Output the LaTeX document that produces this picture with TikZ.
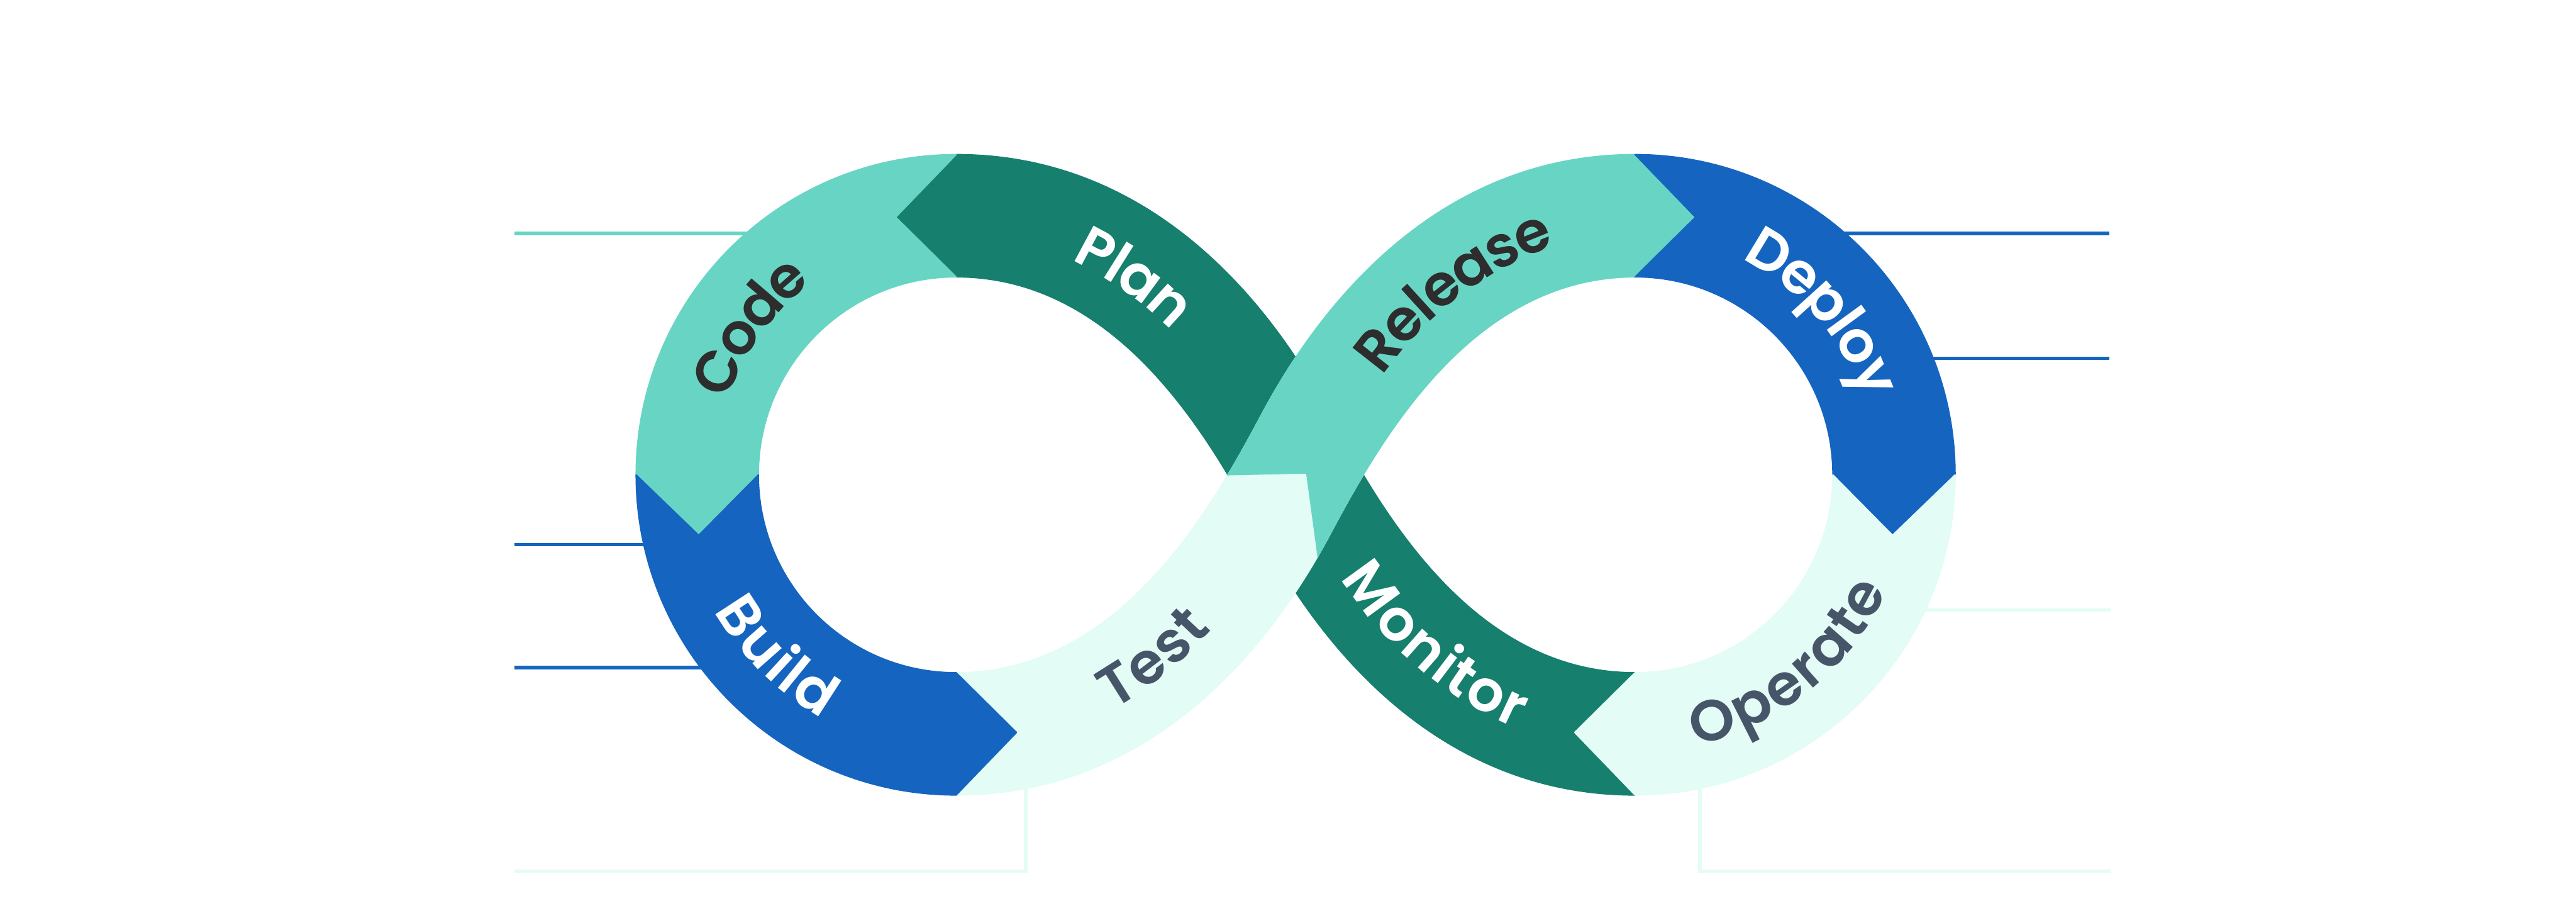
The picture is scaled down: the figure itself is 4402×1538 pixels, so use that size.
\documentclass[tikz,border=0pt]{standalone}
\usepackage{fontspec}
\usetikzlibrary{calc,decorations.text}
\IfFontExistsTF{Poppins SemiBold}%
  {\newfontfamily\lblfont{Poppins SemiBold}\newcommand\lblweight{\relax}}%
  {\newfontfamily\lblfont{Poppins}\newcommand\lblweight{\bfseries}}
\newcommand\lblstyle{\lblfont\lblweight\fontsize{28}{30}\selectfont}
\definecolor{cteal}{HTML}{68D5C4}
\definecolor{cdark}{HTML}{167F6E}
\definecolor{cblue}{HTML}{1565C0}
\definecolor{clight}{HTML}{E3FCF6}
\definecolor{ctxt}{HTML}{2D2D2D}
\definecolor{cslate}{HTML}{475569}
\begin{document}
\begin{tikzpicture}[x=0.01cm,y=0.01cm,
  seg/.style={fill=#1,draw=#1,line width=0.6pt,line join=round},
  guide/.style={draw=#1,line width=1.7pt},
  lbl/.style={decorate,decoration={text along path,text align=center,raise=-9pt,text={#1}}}]
\useasboundingbox (0,0) rectangle (4402,1538);
% centres
\coordinate (L) at (1634,727);
\coordinate (Rc) at (2794,727);
\coordinate (OPlan) at (1573.5,550.3);
\coordinate (OMon) at (2854.5,903.7);
\coordinate (ORel) at (2854.5,550.3);
\coordinate (OTest) at (1573.5,903.7);
% guide lines (behind the loop)
\coordinate (g1a) at (879,1139);  \coordinate (g1b) at (1290,1139);
\coordinate (g2a) at (879,608);   \coordinate (g2b) at (1115,608);
\coordinate (g3a) at (879,398);   \coordinate (g3b) at (1212,398);
\coordinate (g4a) at (879,50);    \coordinate (g4c) at (1753,50); \coordinate (g4b) at (1753,208);
\coordinate (h1a) at (3604,1139); \coordinate (h1b) at (3139,1139);
\coordinate (h2a) at (3604,926);  \coordinate (h2b) at (3288,926);
\coordinate (h3a) at (3607,496);  \coordinate (h3b) at (3275,496);
\coordinate (h4a) at (3607,50);   \coordinate (h4c) at (2905,50); \coordinate (h4b) at (2905,206);
\draw[guide=cteal] (g1a) -- (g1b);
\draw[guide=cblue] (g2a) -- (g2b);
\draw[guide=cblue] (g3a) -- (g3b);
\draw[guide=clight,line join=miter] (g4a) -- (g4c) -- (g4b);
\draw[guide=cblue] (h1a) -- (h1b);
\draw[guide=cblue] (h2a) -- (h2b);
\draw[guide=clight] (h3a) -- (h3b);
\draw[guide=clight,line join=miter] (h4a) -- (h4c) -- (h4b);
% Plan -> Monitor band
\path[seg=cdark] (1634,1274) .. controls (1954,1274) and (2159,1042) .. (2272,830)
  .. controls (2357,671) and (2514,389) .. (2794,389)
  -- ($(Rc)+(256.8:452)$) -- (2794,180)
  .. controls (2474,180) and (2269,412) .. (2156,624)
  .. controls (2071,783) and (1914,1065) .. (1634,1065)
  -- ($(L)+(103.2:452)$) -- cycle;
% Test -> Release band
\path[seg=clight] (1634,180) .. controls (1954,180) and (2159,412) .. (2272,624)
  .. controls (2357,783) and (2514,1065) .. (2794,1065)
  -- ($(Rc)+(76.8:452)$) -- (2794,1274)
  .. controls (2474,1274) and (2269,1042) .. (2156,830)
  .. controls (2071,671) and (1914,389) .. (1634,389)
  -- ($(L)+(283.2:452)$) -- cycle;
\begin{scope}
  \clip (1900,721.5) -- (2232,729) -- (2274,420) -- (3700,420) -- (3700,1538) -- (1900,1538) -- cycle;
  \path[seg=cteal] (1634,180) .. controls (1954,180) and (2159,412) .. (2272,624)
    .. controls (2357,783) and (2514,1065) .. (2794,1065)
    -- ($(Rc)+(76.8:452)$) -- (2794,1274)
    .. controls (2474,1274) and (2269,1042) .. (2156,830)
    .. controls (2071,671) and (1914,389) .. (1634,389)
    -- ($(L)+(283.2:452)$) -- cycle;
\end{scope}
% Code
\path[seg=cteal] ($(L)+(90:547)$) arc[start angle=90,end angle=180,radius=547]
  -- ($(L)+(193.2:452)$) -- ($(L)+(180:338)$) arc[start angle=180,end angle=90,radius=338]
  -- ($(L)+(103.2:452)$) -- cycle;
% Build
\path[seg=cblue] ($(L)+(180:547)$) arc[start angle=180,end angle=270,radius=547]
  -- ($(L)+(283.2:452)$) -- ($(L)+(270:338)$) arc[start angle=270,end angle=180,radius=338]
  -- ($(L)+(193.2:452)$) -- cycle;
% Deploy
\path[seg=cblue] ($(Rc)+(90:547)$) arc[start angle=90,end angle=0,radius=547]
  -- ($(Rc)+(-13.2:452)$) -- ($(Rc)+(0:338)$) arc[start angle=0,end angle=90,radius=338]
  -- ($(Rc)+(76.8:452)$) -- cycle;
% Operate
\path[seg=clight] ($(Rc)+(0:547)$) arc[start angle=0,end angle=-90,radius=547]
  -- ($(Rc)+(-103.2:452)$) -- ($(Rc)+(-90:338)$) arc[start angle=-90,end angle=0,radius=338]
  -- ($(Rc)+(-13.2:452)$) -- cycle;
% labels
\path[lbl={|\lblstyle\color{ctxt}|Code}] ($(L)+(204.4:442.5)$) arc[start angle=204.4,end angle=84.4,radius=442.5];
\path[lbl={|\lblstyle\color{white}|Build}] ($(L)+(165.2:442.5)$) arc[start angle=165.2,end angle=285.2,radius=442.5];
\path[lbl={|\lblstyle\color{white}|Deploy}] ($(Rc)+(100.9:442.5)$) arc[start angle=100.9,end angle=-19.1,radius=442.5];
\path[lbl={|\lblstyle\color{cslate}|Operate}] ($(Rc)+(249:442.5)$) arc[start angle=249,end angle=369,radius=442.5];
\path[lbl={|\lblstyle\color{white}|Plan}] ($(OPlan)+(99.7:633)$) arc[start angle=99.7,end angle=9.7,radius=633];
\path[lbl={|\lblstyle\color{white}|Monitor}] ($(OMon)+(184.3:633)$) arc[start angle=184.3,end angle=274.3,radius=633];
\path[lbl={|\lblstyle\color{ctxt}|Release}] ($(ORel)+(172:633)$) arc[start angle=172,end angle=82,radius=633];
\path[lbl={|\lblstyle\color{cslate}|Test}] ($(OTest)+(264:633)$) arc[start angle=264,end angle=354,radius=633];
\end{tikzpicture}
\end{document}
